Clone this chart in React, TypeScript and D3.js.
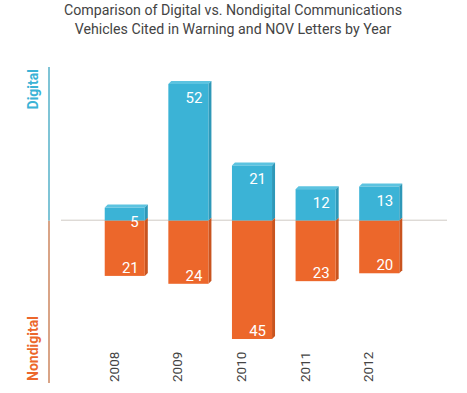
import React from "react";
import * as d3 from "d3";

const years = ["2008", "2009", "2010", "2011", "2012"];
const digital = [5, 52, 21, 12, 13];
const nondigital = [21, 24, 45, 23, 20];
const titleLines = [
  "Comparison of Digital vs. Nondigital Communications",
  "Vehicles Cited in Warning and NOV Letters by Year",
];

const W = 467;
const H = 393;
const BLUE = "#3bb3d6";
const BLUE_DARK = "#2e98b8";
const BLUE_LIGHT = "#5cc3e0";
const ORANGE = "#ec672b";
const ORANGE_DARK = "#c9541f";
const FONT = "Roboto, 'Open Sans', sans-serif";

export default function App() {
  const x = d3.scaleBand<string>().domain(years).range([92, 412]).paddingInner(0.37).paddingOuter(0.2);
  const y = d3.scaleLinear().domain([-45, 52]).range([339, 84]);
  const y0 = y(0);
  const bw = x.bandwidth();
  const depth = 3;

  return (
    <svg width={W} height={H} style={{ position: "absolute", left: 0, top: 0, background: "#fff" }} fontFamily={FONT}>
      {titleLines.map((t, i) => (
        <text key={i} x={233} y={15 + i * 18.5} textAnchor="middle" fontSize={14.2} fill="#444">
          {t}
        </text>
      ))}
      {/* vertical axis */}
      <line x1={49} x2={49} y1={67} y2={y0} stroke="#7fc4d6" strokeWidth={2} />
      <line x1={49} x2={49} y1={y0} y2={383} stroke="#d9a487" strokeWidth={2} />
      <text transform={`translate(38,69) rotate(-90)`} textAnchor="end" fontSize={14} fontWeight={700} fill={BLUE}>
        Digital
      </text>
      <text transform={`translate(38,381) rotate(-90)`} textAnchor="start" fontSize={14} fontWeight={700} fill={ORANGE}>
        Nondigital
      </text>
      {/* zero line */}
      <line x1={61} x2={447} y1={y0 - 0.5} y2={y0 - 0.5} stroke="#cfcac4" strokeWidth={1} />
      {years.map((yr, i) => {
        const bx = x(yr)!;
        const top = y(digital[i]);
        const bot = y(-nondigital[i]);
        return (
          <g key={yr}>
            {/* digital bar */}
            <polygon
              points={`${bx},${top} ${bx + depth},${top - depth} ${bx + bw + depth},${top - depth} ${bx + bw},${top}`}
              fill={BLUE_LIGHT}
            />
            <polygon
              points={`${bx + bw},${top} ${bx + bw + depth},${top - depth} ${bx + bw + depth},${y0 - depth} ${bx + bw},${y0}`}
              fill={BLUE_DARK}
            />
            <rect x={bx} y={top} width={bw} height={y0 - top} fill={BLUE} />
            {/* nondigital bar */}
            <polygon
              points={`${bx + bw},${y0} ${bx + bw + depth},${y0 - depth} ${bx + bw + depth},${bot - depth} ${bx + bw},${bot}`}
              fill={ORANGE_DARK}
            />
            <rect x={bx} y={y0} width={bw} height={bot - y0} fill={ORANGE} />
            <text x={bx + bw - 6} y={top + 19} textAnchor="end" fontSize={15} fill="#fff">
              {digital[i]}
            </text>
            <text x={bx + bw - 6} y={bot - 3} textAnchor="end" fontSize={15} fill="#fff">
              {nondigital[i]}
            </text>
            <text
              transform={`translate(${bx + bw / 2 - 6},382) rotate(-90)`}
              textAnchor="start"
              fontSize={13.5}
              fill="#444"
            >
              {yr}
            </text>
          </g>
        );
      })}
    </svg>
  );
}
